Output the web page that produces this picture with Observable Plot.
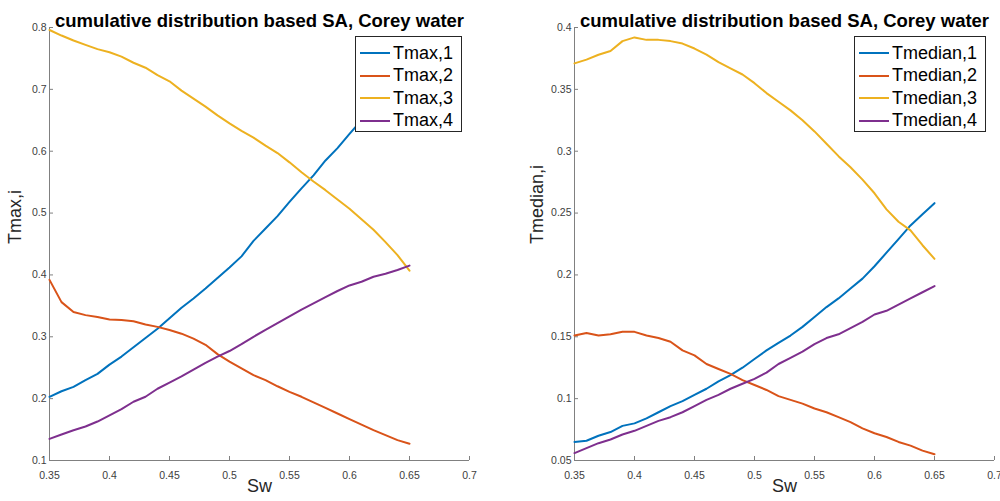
<!DOCTYPE html>
<html><head><meta charset="utf-8">
<script src="https://cdn.jsdelivr.net/npm/d3@7"></script>
<script src="https://cdn.jsdelivr.net/npm/@observablehq/plot@0.6"></script>
<style>
html,body{margin:0;padding:0;background:#fff;}
#wrap{display:flex;width:1000px;height:501px;}
.panel{position:relative;width:500px;height:501px;}
.legend{position:absolute;background:#fff;border:1px solid #262626;box-sizing:border-box;padding:5px 0 0 0;
  font-family:"Liberation Sans",Arial,Helvetica,sans-serif;font-size:18px;color:#000;}
.row{display:flex;align-items:center;height:22.5px;}
.sw{display:inline-block;width:30px;height:2px;margin-left:4px;margin-right:3px;}
</style>
</head><body>
<div id="wrap"></div>
<script>
const Sw = [0.35,0.36,0.37,0.38,0.39,0.40,0.41,0.42,0.43,0.44,0.45,0.46,0.47,0.48,0.49,0.50,
            0.51,0.52,0.53,0.54,0.55,0.56,0.57,0.58,0.59,0.60,0.61,0.62,0.63,0.64,0.65];

const tmax1 = [0.203,0.212,0.219,0.230,0.240,0.255,0.268,0.283,0.298,0.313,0.330,0.347,0.362,0.378,0.395,0.412,
               0.430,0.455,0.475,0.495,0.518,0.540,0.561,0.585,0.605,0.628,0.650,0.672,0.695,0.718,0.740];
const tmax2 = [0.392,0.356,0.340,0.335,0.332,0.328,0.327,0.325,0.320,0.316,0.311,0.305,0.297,0.287,0.272,0.260,
               0.249,0.238,0.230,0.220,0.211,0.203,0.194,0.185,0.176,0.167,0.158,0.149,0.141,0.133,0.127];
const tmax3 = [0.796,0.787,0.779,0.772,0.765,0.760,0.753,0.743,0.735,0.723,0.713,0.698,0.685,0.672,0.658,0.645,
               0.633,0.622,0.609,0.597,0.582,0.566,0.551,0.537,0.522,0.507,0.490,0.473,0.453,0.432,0.407];
const tmax4 = [0.135,0.142,0.149,0.155,0.163,0.173,0.183,0.195,0.203,0.216,0.226,0.236,0.247,0.258,0.268,0.277,
               0.288,0.300,0.311,0.322,0.333,0.344,0.354,0.364,0.374,0.383,0.389,0.397,0.402,0.408,0.415];

const tmed1 = [0.065,0.066,0.070,0.073,0.078,0.080,0.084,0.089,0.094,0.098,0.103,0.108,0.114,0.119,0.125,0.132,
               0.139,0.145,0.151,0.158,0.166,0.174,0.181,0.189,0.197,0.207,0.218,0.229,0.240,0.249,0.258];
const tmed2 = [0.151,0.153,0.151,0.152,0.154,0.154,0.151,0.149,0.146,0.139,0.135,0.128,0.124,0.120,0.115,0.111,
               0.107,0.102,0.099,0.096,0.092,0.089,0.085,0.081,0.076,0.072,0.069,0.065,0.062,0.058,0.055];
const tmed3 = [0.371,0.374,0.378,0.381,0.389,0.392,0.390,0.390,0.389,0.387,0.383,0.378,0.372,0.367,0.362,0.355,
               0.347,0.340,0.333,0.325,0.316,0.306,0.296,0.287,0.277,0.266,0.253,0.243,0.236,0.224,0.213];
const tmed4 = [0.056,0.060,0.064,0.067,0.071,0.074,0.078,0.082,0.085,0.089,0.094,0.099,0.103,0.108,0.112,0.116,
               0.121,0.128,0.133,0.138,0.144,0.149,0.152,0.157,0.162,0.168,0.171,0.176,0.181,0.186,0.191];

const seriesMax = ["Tmax,1","Tmax,2","Tmax,3","Tmax,4"];
const seriesMed = ["Tmedian,1","Tmedian,2","Tmedian,3","Tmedian,4"];
const colors = ["#0072BD","#D95319","#EDB120","#7E2F8E"];
const xTicks = [0.35,0.4,0.45,0.5,0.55,0.6,0.65,0.7];
const yTicksMax = [0.1,0.2,0.3,0.4,0.5,0.6,0.7,0.8];
const yTicksMed = [0.05,0.1,0.15,0.2,0.25,0.3,0.35,0.4];
const titleText = "cumulative distribution based SA, Corey water";

const FONT = '"Liberation Sans", Arial, Helvetica, sans-serif';
const AXIS = "#808080";
const TICKTEXT = "#404040";

function makePanel(cfg) {
  const data = [];
  cfg.series.forEach((name, i) => cfg.values[i].forEach((v, j) => data.push({Sw: Sw[j], value: v, series: name})));
  const chart = Plot.plot({
    width: 500, height: 501,
    marginLeft: cfg.marginLeft, marginRight: cfg.marginRight, marginTop: 27, marginBottom: 41,
    style: {fontFamily: FONT, background: "white", overflow: "visible"},
    x: {domain: [0.35, 0.7], label: null},
    y: {domain: cfg.yDomain, label: null},
    color: {domain: cfg.series, range: colors},
    marks: [
      Plot.ruleX([0.35], {stroke: AXIS}),
      Plot.ruleY([cfg.yDomain[0]], {stroke: AXIS}),
      Plot.axisX(xTicks, {tickSize: -4, tickPadding: 15, tickFormat: d => String(d), fontSize: 10.5, fill: TICKTEXT, stroke: AXIS, label: null}),
      Plot.axisY(cfg.yTicks, {tickSize: -4, tickPadding: 7, tickFormat: d => String(d), fontSize: 10.5, fill: TICKTEXT, stroke: AXIS, label: null}),
      Plot.line(data, {x: "Sw", y: "value", z: "series", stroke: "series", strokeWidth: 2}),
      Plot.text([titleText], {frameAnchor: "top", dy: -14, fontWeight: "bold", fontSize: 18.5, fill: "#000"}),
      Plot.text(["Sw"], {frameAnchor: "bottom", dy: 31, fontSize: 18, fill: "#262626"}),
      Plot.text([cfg.ylabel], {frameAnchor: "left", dx: cfg.ylabelDx, rotate: -90, fontSize: 18, fill: "#262626"})
    ]
  });
  const div = document.createElement("div");
  div.className = "panel";
  div.appendChild(chart);
  const leg = document.createElement("div");
  leg.className = "legend";
  Object.assign(leg.style, cfg.legendBox);
  cfg.series.forEach((name, i) => {
    const r = document.createElement("div");
    r.className = "row";
    const s = document.createElement("span");
    s.className = "sw";
    s.style.background = colors[i];
    r.appendChild(s);
    r.appendChild(document.createTextNode(name));
    leg.appendChild(r);
  });
  div.appendChild(leg);
  return div;
}

const wrap = document.getElementById("wrap");
wrap.appendChild(makePanel({
  series: seriesMax, values: [tmax1, tmax2, tmax3, tmax4],
  yDomain: [0.1, 0.8], yTicks: yTicksMax, ylabel: "Tmax,i", ylabelDx: -34,
  marginLeft: 49, marginRight: 31,
  legendBox: {left: "355px", top: "36px", width: "107px", height: "96px"}
}));
wrap.appendChild(makePanel({
  series: seriesMed, values: [tmed1, tmed2, tmed3, tmed4],
  yDomain: [0.05, 0.4], yTicks: yTicksMed, ylabel: "Tmedian,i", ylabelDx: -37,
  marginLeft: 74, marginRight: 6,
  legendBox: {left: "354px", top: "36px", width: "132px", height: "96px"}
}));
</script>
</body></html>
